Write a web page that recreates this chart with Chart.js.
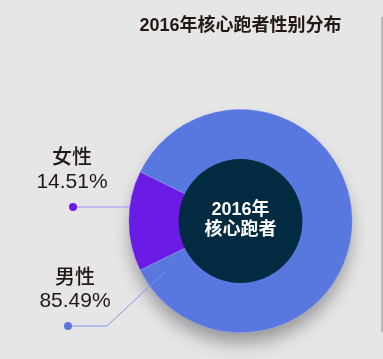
<!DOCTYPE html>
<html><head><meta charset="utf-8">
<script src="https://cdn.jsdelivr.net/npm/chart.js@4/dist/chart.umd.min.js"></script>
<style>
html,body{margin:0;padding:0;background:#e6e6e6;}
#wrap{position:relative;width:383px;height:359px;}
</style></head>
<body><div id="wrap"><canvas id="c" width="383" height="359"></canvas></div>
<script>
const categories = ['女性', '男性'];
const values = [14.51, 85.49];
const valueLabels = ['14.51%', '85.49%'];
const colors = ['#6a1be6', '#5878e0'];
const lineColors = ['#a78af0', '#7f97ea'];
const titleText = '2016年核心跑者性别分布';
const centerLines = ['2016年', '核心跑者'];
const FONT = '"Liberation Sans", "Noto Sans CJK SC", sans-serif';

const deco = {
  id: 'deco',
  beforeDatasetsDraw(chart) {
    const arc = chart.getDatasetMeta(0).data[0];
    const ctx = chart.ctx;
    ctx.save();
    ctx.beginPath();
    ctx.arc(arc.x, arc.y, arc.outerRadius - 2, 0, Math.PI * 2);
    ctx.fillStyle = '#9a9a9a';
    ctx.shadowColor = 'rgba(0,0,0,0.35)';
    ctx.shadowBlur = 18;
    ctx.shadowOffsetY = 12;
    ctx.fill();
    ctx.restore();
    ctx.save();
    ctx.strokeStyle = '#ababab';
    ctx.lineWidth = 1.5;
    ctx.beginPath();
    ctx.moveTo(382, 17);
    ctx.lineTo(382, 332);
    ctx.stroke();
    ctx.restore();
  },
  afterDatasetsDraw(chart) {
    const meta = chart.getDatasetMeta(0);
    const arc = meta.data[0];
    const ctx = chart.ctx;
    const cx = arc.x, cy = arc.y, R = arc.outerRadius;
    ctx.save();
    ctx.beginPath();
    ctx.arc(cx, cy, arc.innerRadius + 1, 0, Math.PI * 2);
    ctx.fillStyle = '#022b42';
    ctx.fill();
    ctx.fillStyle = '#ffffff';
    ctx.textAlign = 'center';
    ctx.textBaseline = 'middle';
    ctx.font = 'bold 18px ' + FONT;
    ctx.fillText(centerLines[0], cx, cy - 11);
    ctx.fillText(centerLines[1], cx, cy + 9);

    const labelPos = [{x: 72, y1: 158, y2: 182, dot: {x: 73, y: 207}}, {x: 75, y1: 278, y2: 301, dot: {x: 68, y: 326}}];
    categories.forEach((cat, i) => {
      const p = labelPos[i];
      ctx.fillStyle = '#231815';
      ctx.font = '500 20px ' + FONT;
      ctx.fillText(cat, p.x, p.y1);
      ctx.font = '21px ' + FONT;
      ctx.fillText(valueLabels[i], p.x, p.y2);
      ctx.strokeStyle = lineColors[i];
      ctx.lineWidth = 1;
      ctx.beginPath();
      ctx.moveTo(p.dot.x, p.dot.y);
      if (i === 0) {
        const dy = p.dot.y - cy;
        const ex = cx - Math.sqrt(R * R - dy * dy);
        ctx.lineTo(ex, p.dot.y);
      } else {
        const a = (180 + 34) * Math.PI / 180;
        ctx.lineTo(107, p.dot.y);
        ctx.lineTo(cx + Math.cos(a) * R * 0.82, cy - Math.sin(a) * R * 0.82);
      }
      ctx.stroke();
      ctx.beginPath();
      ctx.arc(p.dot.x, p.dot.y, 4, 0, Math.PI * 2);
      ctx.fillStyle = colors[i];
      ctx.fill();
    });
    ctx.restore();
  }
};

const femaleSpan = values[0] / (values[0] + values[1]) * 360;
new Chart(document.getElementById('c'), {
  type: 'doughnut',
  data: {
    labels: categories,
    datasets: [{
      data: values,
      backgroundColor: colors,
      borderColor: 'rgba(200,200,255,0.5)',
      borderWidth: 0.5,
      hoverOffset: 0
    }]
  },
  options: {
    responsive: false,
    animation: false,
    rotation: 270 - femaleSpan / 2,
    cutout: '54.5%',
    layout: { padding: { left: 128.5, right: 30.5, top: 10, bottom: 26 } },
    plugins: {
      legend: { display: false },
      tooltip: { enabled: false },
      title: {
        display: true,
        text: titleText,
        color: '#231815',
        font: { family: FONT, size: 18, weight: 'bold' },
        padding: { top: 5, bottom: 72.4 }
      }
    }
  },
  plugins: [deco]
});
</script>
</body></html>
